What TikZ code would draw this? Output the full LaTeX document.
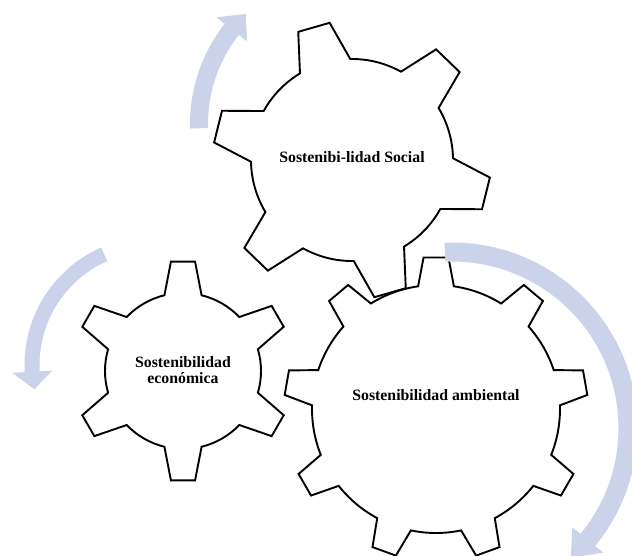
\documentclass[tikz,border=0pt]{standalone}
\usepackage{fontspec}
\setmainfont{Liberation Serif}
\definecolor{arrcol}{RGB}{203,211,234}
\tikzset{
  gearline/.style={draw=black, line width=1.9pt, fill=white, line join=miter},
  gtext/.style={font=\bfseries\fontsize{15.8}{16.6}\selectfont, align=center, inner sep=0pt},
  arrowband/.style={fill=arrcol, draw=none},
}
% #1 cx, #2 cy, #3 teeth, #4 first tooth angle, #5 root r, #6 tip r, #7 base half-angle, #8 tip half-angle
\newcommand{\mygear}[8]{%
  \pgfmathsetmacro{\gsp}{360/#3}%
  \draw[gearline, shift={(#1,#2)}] ({#4-#7}:#5)
    \foreach \k in {1,...,#3} {
      -- ({#4+(\k-1)*\gsp-#8}:#6) -- ({#4+(\k-1)*\gsp+#8}:#6) -- ({#4+(\k-1)*\gsp+#7}:#5)
      arc[start angle={#4+(\k-1)*\gsp+#7}, end angle={#4+\k*\gsp-#7}, radius=#5]
    } -- cycle;
}
% #1 cx, #2 cy, #3 R, #4 start angle, #5 head base angle, #6 tip angle, #7 half band, #8 half head
\newcommand{\myarrow}[8]{%
  \fill[arrowband, shift={(#1,#2)}] (#4:{#3+#7})
    arc[start angle=#4, end angle=#5, radius={#3+#7}]
    -- (#5:{#3+#8}) -- (#6:#3) -- (#5:{#3-#8}) -- (#5:{#3-#7})
    arc[start angle=#5, end angle=#4, radius={#3-#7}] -- cycle;
}
\begin{document}
\begin{tikzpicture}[x=1pt,y=1pt]
\useasboundingbox (0,0) rectangle (632,-555);
\begin{scope}
\clip (0,0) rectangle (632,-555);
\mygear{183}{-371}{6}{90}{78}{110}{13.8}{6.3}
\mygear{352}{-160}{6}{106}{101}{139}{15}{6.75}
\mygear{436}{-409}{9}{90}{124}{152}{8.3}{4.7}
\myarrow{352}{-124}{153}{181.6}{141.8}{134}{9}{19.5}
\myarrow{153}{-365}{121}{113.8}{183.2}{191.6}{7.5}{20}
\myarrow{452}{-428}{176}{92.3}{-39.5}{-47.5}{9.5}{20}
\end{scope}
\node[gtext] (social) at (352,-157) {Sostenibi-lidad Social};
\node[gtext] (econ) at (183,-370) {Sostenibilidad\\económica};
\node[gtext] (amb) at (436,-395) {Sostenibilidad ambiental};
\end{tikzpicture}
\end{document}
